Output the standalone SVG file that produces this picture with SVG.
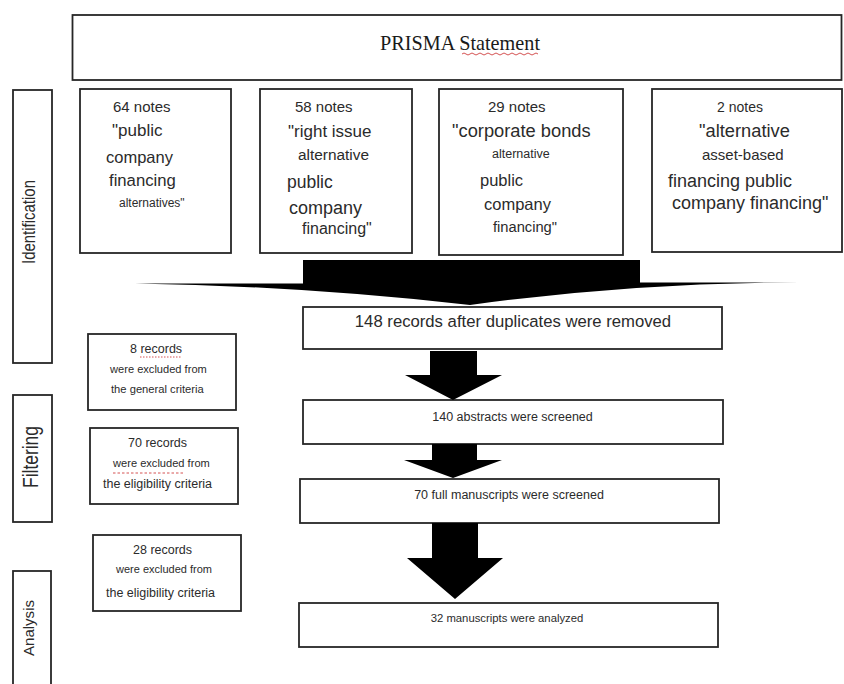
<svg xmlns="http://www.w3.org/2000/svg" width="844" height="684" viewBox="0 0 844 684">
<style>
.box{fill:#fff;stroke:#262626;stroke-width:1.8}
.t{font-family:"Liberation Sans",Arial,sans-serif;fill:#2b2b2b}
.s{font-family:"Liberation Serif","Times New Roman",serif;fill:#1a1a1a}
.arrow{fill:#000}
.sq{fill:none;stroke:#d04040;stroke-width:0.9}
</style>
<rect width="844" height="684" fill="#fff"/>
<g id="title">
<rect class="box" x="72.5" y="15" width="769" height="65"/>
<text class="s" x="460" y="50" font-size="22" text-anchor="middle" textLength="160" lengthAdjust="spacingAndGlyphs">PRISMA Statement</text>
<path class="sq" d="M462,54 q2,-2 4,0 t4,0 t4,0 t4,0 t4,0 t4,0 t4,0 t4,0 t4,0 t4,0 t4,0 t4,0 t4,0 t4,0 t4,0 t4,0 t4,0 t4,0 t4,0"/>
</g>
<g id="stage-identification">
<rect class="box" x="13" y="90" width="39" height="273"/>
<text class="t" transform="translate(35,222) rotate(-90)" font-size="18" text-anchor="middle" textLength="84" lengthAdjust="spacingAndGlyphs">Identification</text>
</g>
<g id="stage-filtering">
<rect class="box" x="13" y="395" width="39" height="127"/>
<text class="t" transform="translate(37.5,457) rotate(-90)" font-size="22" text-anchor="middle" textLength="62" lengthAdjust="spacingAndGlyphs">Filtering</text>
</g>
<g id="stage-analysis">
<rect class="box" x="13" y="571" width="38" height="125"/>
<text class="t" transform="translate(34,628) rotate(-90)" font-size="15.5" text-anchor="middle" textLength="56" lengthAdjust="spacingAndGlyphs">Analysis</text>
</g>
<g id="search-1">
<rect class="box" x="80" y="89" width="151" height="164"/>
<text class="t" x="113" y="112" font-size="15">64 notes</text>
<text class="t" x="112" y="136" font-size="17">"public</text>
<text class="t" x="106" y="163" font-size="16.5">company</text>
<text class="t" x="109" y="186" font-size="16.7">financing</text>
<text class="t" x="119" y="207" font-size="12">alternatives"</text>
</g>
<g id="search-2">
<rect class="box" x="260" y="89" width="152" height="164"/>
<text class="t" x="295" y="112" font-size="15">58 notes</text>
<text class="t" x="288" y="137" font-size="17">"right issue</text>
<text class="t" x="298" y="160" font-size="15.4">alternative</text>
<text class="t" x="287" y="188" font-size="17.5">public</text>
<text class="t" x="289" y="214" font-size="18">company</text>
<text class="t" x="302" y="234" font-size="16">financing"</text>
</g>
<g id="search-3">
<rect class="box" x="439" y="89" width="184" height="166"/>
<text class="t" x="488" y="112" font-size="15">29 notes</text>
<text class="t" x="452" y="137" font-size="18.3">"corporate bonds</text>
<text class="t" x="492" y="158" font-size="12.5">alternative</text>
<text class="t" x="480" y="186" font-size="16.5">public</text>
<text class="t" x="484" y="210" font-size="16.5">company</text>
<text class="t" x="493" y="232" font-size="14.7">financing"</text>
</g>
<g id="search-4">
<rect class="box" x="652" y="89" width="190" height="163"/>
<text class="t" x="717" y="112" font-size="14">2 notes</text>
<text class="t" x="699" y="137" font-size="18.3">"alternative</text>
<text class="t" x="702" y="160" font-size="15">asset-based</text>
<text class="t" x="668" y="187" font-size="18">financing public</text>
<text class="t" x="672" y="209" font-size="18">company financing"</text>
</g>
<g id="deduplicated">
<rect class="box" x="303" y="307" width="419" height="42"/>
<text class="t" x="513" y="327" font-size="16.7" text-anchor="middle">148 records after duplicates were removed</text>
</g>
<g id="abstracts">
<rect class="box" x="303" y="400" width="420" height="44"/>
<text class="t" x="512.5" y="421" font-size="12.5" text-anchor="middle">140 abstracts were screened</text>
</g>
<g id="fulltext">
<rect class="box" x="300" y="479" width="419" height="44"/>
<text class="t" x="509" y="499" font-size="12.5" text-anchor="middle">70 full manuscripts were screened</text>
</g>
<g id="analyzed">
<rect class="box" x="299" y="603" width="419" height="44"/>
<text class="t" x="507" y="622" font-size="11.3" text-anchor="middle">32 manuscripts were analyzed</text>
</g>
<g id="excluded-general">
<rect class="box" x="88" y="334" width="148" height="76"/>
<text class="t" x="130" y="353" font-size="12.5">8 records</text>
<path class="sq" d="M140,357 h42" stroke-dasharray="1.5,1.5"/>
<text class="t" x="110" y="373" font-size="11.1">were excluded from</text>
<text class="t" x="111" y="393" font-size="11.2">the general criteria</text>
</g>
<g id="excluded-eligibility-1">
<rect class="box" x="90" y="428" width="148" height="76"/>
<text class="t" x="128" y="447" font-size="12.5">70 records</text>
<text class="t" x="113" y="467" font-size="11.1">were excluded from</text>
<path class="sq" d="M113,473 h70" stroke-dasharray="2.5,2"/>
<text class="t" x="103" y="488" font-size="12.5">the eligibility criteria</text>
</g>
<g id="excluded-eligibility-2">
<rect class="box" x="93" y="535" width="148" height="76"/>
<text class="t" x="133" y="554" font-size="12.5">28 records</text>
<text class="t" x="116" y="573" font-size="11">were excluded from</text>
<text class="t" x="106" y="597" font-size="12.5">the eligibility criteria</text>
</g>
<g id="connectors">
<path class="arrow" d="M303,260 L640,260 L640,282.5 L807,282.5 Q638,282 470,305 Q303,286 135,283.5 L303,283.5 Z"/>
<path class="arrow" d="M430,351 H477 V375 H502 L453,400 L405,375 H430 Z"/>
<path class="arrow" d="M432,444 H477 V460 H502 L453,478 L404,460 H432 Z"/>
<path class="arrow" d="M432,523 H478 V558 H503 L455,599 L407,558 H432 Z"/>
</g>
</svg>
